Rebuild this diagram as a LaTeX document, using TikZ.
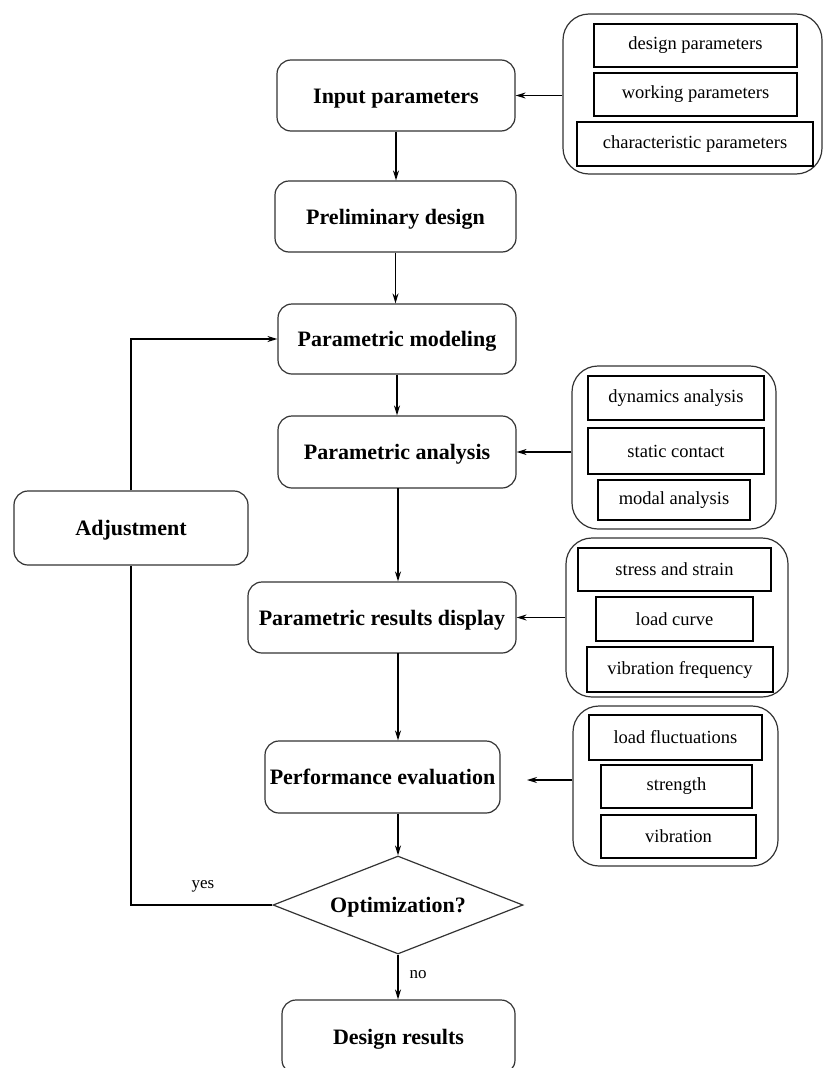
\documentclass[tikz,border=0pt]{standalone}
\usepackage{fontspec}
\setmainfont{Liberation Serif}
\usetikzlibrary{shapes.geometric,arrows.meta}
\tikzset{
  mainbox/.style={draw, line width=1.2pt, rounded corners=14pt, font=\fontsize{22}{24}\selectfont\bfseries, inner sep=0pt, align=center, draw=black!80, text height=20pt, text depth=5pt},
  grp/.style={draw, line width=1.2pt, rounded corners=26pt, inner sep=0pt, draw=black!80},
  item/.style={draw, line width=1.3pt, font=\fontsize{18.5}{20}\selectfont, inner sep=0pt},
  arr/.style={line width=1.3pt, -{Stealth[length=10pt,width=6pt]}},
  ln/.style={line width=1.3pt},
  lbl/.style={font=\fontsize{17}{19}\selectfont}
}
\begin{document}
\begin{tikzpicture}[x=1pt,y=-1pt]
\useasboundingbox (0,0) rectangle (832,1068);
% main column
\node[mainbox, minimum width=238pt, minimum height=71pt] (inp) at (396,95.5) {Input parameters};
\node[mainbox, minimum width=241pt, minimum height=71pt] (pre) at (395.5,216.5) {Preliminary design};
\node[mainbox, minimum width=238pt, minimum height=70pt] (mod) at (397,339) {Parametric modeling};
\node[mainbox, minimum width=238pt, minimum height=72pt] (ana) at (397,452) {Parametric analysis};
\node[mainbox, minimum width=268pt, minimum height=71pt] (res) at (382,617.5) {Parametric results display};
\node[mainbox, minimum width=235pt, minimum height=72pt] (per) at (382.5,777) {Performance evaluation};
\node[draw, line width=1.2pt, draw=black!80, diamond, aspect=2.55, minimum width=250pt, minimum height=98pt, inner sep=0pt, text height=20pt, text depth=5pt, font=\fontsize{22}{24}\selectfont\bfseries] (opt) at (398,905) {Optimization?};
\node[mainbox, minimum width=233pt, minimum height=74pt] (des) at (398.5,1037) {Design results};
\node[mainbox, minimum width=234pt, minimum height=74pt] (adj) at (131,528) {Adjustment};
% group 1
\node[grp, minimum width=259pt, minimum height=160pt] (g1) at (692.5,94) {};
\node[item, minimum width=203pt, minimum height=43pt] (g1a) at (695.5,45.5) {design parameters};
\node[item, minimum width=203pt, minimum height=43pt] (g1b) at (695.5,94.5) {working parameters};
\node[item, minimum width=236pt, minimum height=44pt] (g1c) at (695,144) {characteristic parameters};
% group 2
\node[grp, minimum width=204pt, minimum height=163pt] (g2) at (674,447.5) {};
\node[item, minimum width=176pt, minimum height=44pt] (g2a) at (676,398) {dynamics analysis};
\node[item, minimum width=176pt, minimum height=46pt] (g2b) at (676,451) {static contact};
\node[item, minimum width=152pt, minimum height=40pt] (g2c) at (674,500) {modal analysis};
% group 3
\node[grp, minimum width=222pt, minimum height=159pt] (g3) at (677,617.5) {};
\node[item, minimum width=193pt, minimum height=43pt] (g3a) at (674.5,569.5) {stress and strain};
\node[item, minimum width=157pt, minimum height=44pt] (g3b) at (674.5,619) {load curve};
\node[item, minimum width=186pt, minimum height=45pt] (g3c) at (680,669.5) {vibration frequency};
% group 4
\node[grp, minimum width=205pt, minimum height=160pt] (g4) at (675.5,786) {};
\node[item, minimum width=173pt, minimum height=45pt] (g4a) at (675.5,737.5) {load fluctuations};
\node[item, minimum width=151pt, minimum height=43pt] (g4b) at (676.5,786.5) {strength};
\node[item, minimum width=155pt, minimum height=43pt] (g4c) at (678.5,836.5) {vibration};
% vertical arrows
\draw[arr] (inp.south) -- (inp.south |- pre.north);
\draw[arr] (pre.south) -- (pre.south |- mod.north);
\draw[arr] (ana.north |- mod.south) -- (ana.north);
\coordinate (r1) at (398,488);
\draw[arr] (r1) -- (r1 |- res.north);
\coordinate (c1) at (398,653);
\draw[arr] (c1) -- (c1 |- per.north);
\draw[arr] (opt.north |- per.south) -- (opt.north);
\draw[arr] (opt.south) -- (opt.south |- des.north);
% side arrows
\draw[arr] (g1.west |- inp.east) -- (inp.east);
\draw[arr] (g2.west |- ana.east) -- (ana.east);
\draw[arr] (g3.west |- res.east) -- (res.east);
\coordinate (t4) at (527,780);
\draw[arr] (g4.west |- t4) -- (t4);
% feedback loop
\draw[ln] (opt.west) -| (adj.south);
\draw[arr] (adj.north) |- (mod.west);
% labels
\node[lbl] (yes) at (203,886) {yes};
\node[lbl] (no) at (418,975) {no};
\end{tikzpicture}
\end{document}
